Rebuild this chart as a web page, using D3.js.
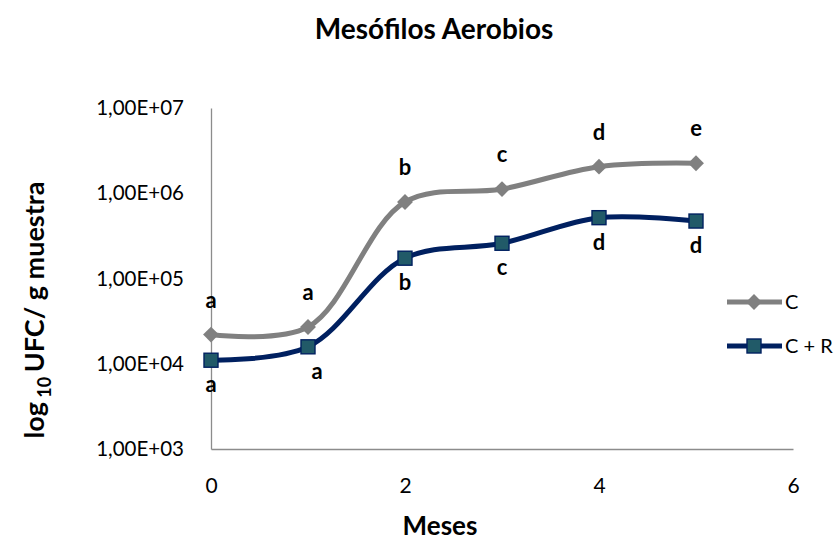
<!DOCTYPE html>
<html><head><meta charset="utf-8">
<script src="https://cdn.jsdelivr.net/npm/d3@7"></script>
<style>body{margin:0;background:#fff}svg{display:block;font-family:Lato,"Open Sans",sans-serif}</style>
</head><body><svg id="c" width="837" height="541"></svg>
<script>
const months = [0,1,2,3,4,5];
const seriesNames = ["C","C + R"];
const valuesC  = [22000, 27000, 790000, 1120000, 2050000, 2250000];
const valuesCR = [11000, 15800, 173000, 259000, 517000, 472000];
const lettersC  = ["a","a","b","c","d","e"];
const lettersCR = ["a","a","b","c","d","d"];
const yTicks = [1e3,1e4,1e5,1e6,1e7];
const yTickLabels = ["1,00E+03","1,00E+04","1,00E+05","1,00E+06","1,00E+07"];
const xTicks = [0,2,4,6];

const FONT = "Lato, 'Open Sans', sans-serif";
const svg = d3.select("#c");
const x = d3.scaleLinear().domain([0,6]).range([211,793]);
const y = d3.scaleLog().domain([1e3,1e7]).range([449,108]);

// axes
svg.append("g").attr("transform","translate(211,0)")
  .call(d3.axisLeft(y).tickValues(yTicks).tickSize(0).tickPadding(27)
    .tickFormat(d=>yTickLabels[yTicks.indexOf(d)]))
  .call(g=>{g.select(".domain").attr("stroke","#8c8c8c").attr("stroke-width",1.3);
    g.selectAll("text").attr("font-size",20.5).attr("fill","#000").attr("font-family",FONT);});
svg.append("g").attr("transform","translate(0,449)")
  .call(d3.axisBottom(x).tickValues(xTicks).tickSize(0).tickPadding(29).tickFormat(d3.format("d")))
  .call(g=>{g.select(".domain").attr("stroke","#8c8c8c").attr("stroke-width",1.3);
    g.selectAll("text").attr("font-size",21).attr("fill","#000").attr("font-family",FONT);});

const line = d3.line().x((d,i)=>x(months[i])).y(d=>y(d)).curve(d3.curveCatmullRom.alpha(0.5));

const grayCol = "#808080", navy = "#002060", teal = "#215a68";

svg.append("path").attr("d",line(valuesC)).attr("fill","none").attr("stroke",grayCol).attr("stroke-width",5);
svg.append("path").attr("d",line(valuesCR)).attr("fill","none").attr("stroke",navy).attr("stroke-width",5);

const diamond = d3.symbol().type(d3.symbolDiamond2).size(160);
svg.selectAll(".mc").data(valuesC).join("path")
  .attr("transform",(d,i)=>`translate(${x(months[i])},${y(d)})`)
  .attr("d",diamond).attr("fill",grayCol);
svg.selectAll(".mcr").data(valuesCR).join("rect")
  .attr("x",(d,i)=>x(months[i])-7).attr("y",d=>y(d)-7)
  .attr("width",14).attr("height",14).attr("fill",teal).attr("stroke",navy).attr("stroke-width",1.4);

// letters
svg.selectAll(".lc").data(valuesC).join("text")
  .attr("x",(d,i)=>x(months[i])).attr("y",d=>y(d)-27)
  .attr("text-anchor","middle").attr("font-size",22).attr("font-weight","bold").text((d,i)=>lettersC[i]);
svg.selectAll(".lcr").data(valuesCR).join("text")
  .attr("x",(d,i)=>x(months[i])+(i===1?9:0)).attr("y",d=>y(d)+32)
  .attr("text-anchor","middle").attr("font-size",22).attr("font-weight","bold").text((d,i)=>lettersCR[i]);

// title
svg.append("text").attr("x",434).attr("y",39).attr("text-anchor","middle")
  .attr("font-size",28).attr("font-weight","bold").text("Mesófilos Aerobios");
// x title
svg.append("text").attr("x",440).attr("y",535).attr("text-anchor","middle")
  .attr("font-size",26).attr("font-weight","bold").text("Meses");
// y title
const yt = svg.append("text").attr("transform","translate(44,310) rotate(-90)").attr("text-anchor","middle")
  .attr("font-size",27).attr("font-weight","bold");
yt.append("tspan").text("log");
yt.append("tspan").attr("font-size",18).attr("dy",7).text(" 10 ");
yt.append("tspan").attr("dy",-7).text("UFC/ g muestra");

// legend
const legY = [302, 346];
svg.append("line").attr("x1",727).attr("x2",782).attr("y1",legY[0]).attr("y2",legY[0]).attr("stroke",grayCol).attr("stroke-width",5);
svg.append("path").attr("transform",`translate(754,${legY[0]})`).attr("d",diamond).attr("fill",grayCol);
svg.append("line").attr("x1",727).attr("x2",782).attr("y1",legY[1]).attr("y2",legY[1]).attr("stroke",navy).attr("stroke-width",5);
svg.append("rect").attr("x",747).attr("y",legY[1]-7).attr("width",14).attr("height",14).attr("fill",teal).attr("stroke",navy).attr("stroke-width",1.4);
seriesNames.forEach((n,i)=>svg.append("text").attr("x",785).attr("y",legY[i]+7).attr("font-size",20).text(n));
</script></body></html>
